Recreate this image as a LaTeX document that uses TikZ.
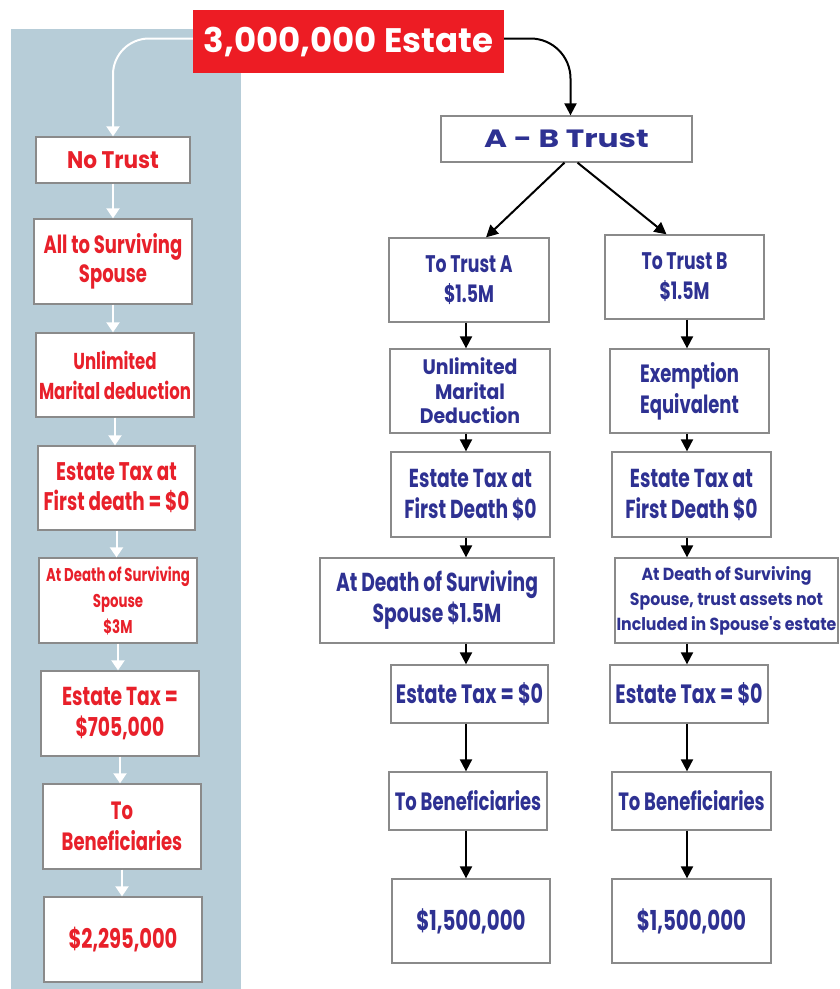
\documentclass[tikz,border=0pt]{standalone}
\usepackage{fontspec}
\setmainfont{Poppins}[FakeStretch=0.72]
\newfontfamily\fwide{Poppins}[FakeStretch=0.9]
\newfontfamily\ftitle{Poppins}[FakeStretch=1.0]
\newfontfamily\fab{Poppins}[FakeStretch=1.25]
\usetikzlibrary{arrows.meta}
\definecolor{panel}{HTML}{B7CDD8}
\definecolor{estred}{HTML}{ED1C24}
\definecolor{txtred}{HTML}{E8202A}
\definecolor{txtblue}{HTML}{2E3192}
\definecolor{boxgray}{HTML}{8A8A8A}
\begin{document}
\begin{tikzpicture}[x=1pt,y=-1pt,
  boxbase/.style={draw=boxgray, line width=1.3pt, fill=white, inner sep=0pt, align=center},
  lbox/.style={boxbase, text=txtred},
  rbox/.style={boxbase, text=txtblue},
  fm/.style n args={2}{font=\bfseries\fontsize{#1}{#2}\selectfont},
  fw/.style n args={2}{font=\fwide\bfseries\fontsize{#1}{#2}\selectfont},
  sz/.style n args={2}{minimum width=#1pt, minimum height=#2pt},
  wline/.style={draw=white, line width=2pt, -{Triangle[length=10pt,width=13pt]}, color=white},
  bline/.style={draw=black, line width=2pt, -{Triangle[length=12pt,width=12pt]}}
]
\useasboundingbox (0,0) rectangle (840,989);
\fill[panel] (11,29) rectangle (241,989);

% title
\node[fill=estred, text=white, inner sep=0pt, sz={311}{63}, font=\ftitle\bfseries\fontsize{34}{40}\selectfont] (title) at (348.5,41.5) {3,000,000 Estate};

% left column
\node[lbox, fw={24}{30}, sz={154}{46}] (notrust) at (113,160) {No Trust};
\node[lbox, fm={25}{29}, sz={158}{85}] (all) at (113,261.5) {All to Surviving\\Spouse};
\node[lbox, fm={23}{30}, sz={158}{84}] (unl) at (115,375) {Unlimited\\Marital deduction};
\node[lbox, fm={25.5}{30}, sz={157}{84}] (etx) at (116.5,488) {Estate Tax at\\First death = \$0};
\node[lbox, fm={18.5}{26}, sz={158}{85}] (atd) at (118,600.5) {At Death of Surviving\\Spouse\\\$3M};
\node[lbox, fm={26}{31}, sz={158}{85}] (tax) at (120,713.5) {Estate Tax =\\\$705,000};
\node[lbox, fm={25}{31}, sz={158}{85}] (ben) at (122,826.5) {To\\Beneficiaries};
\node[lbox, fm={27}{31}, sz={158}{85}] (fin) at (123,939.5) {\$2,295,000};

% A-B trust
\node[rbox, font=\fab\bfseries\fontsize{25}{30}\selectfont, sz={251}{46}] (ab) at (566.5,139) {A - B Trust};

% column A
\node[rbox, fm={24}{30}, sz={160}{84}] (trA) at (469,280) {To Trust A\\\$1.5M};
\node[rbox, fw={21}{24.5}, sz={160}{84}] (umA) at (470,391) {Unlimited\\Marital\\Deduction};
\node[rbox, fm={26}{31}, sz={159}{85}] (etA) at (470.5,494.5) {Estate Tax at\\First Death \$0};
\node[rbox, fm={26}{31}, sz={234}{85}] (adA) at (437,600.5) {At Death of Surviving\\Spouse \$1.5M};
\node[rbox, fm={26.5}{31}, sz={157}{58}] (tzA) at (469.5,694) {Estate Tax = \$0};
\node[rbox, fm={25}{31}, sz={158}{58}] (bnA) at (468,801) {To Beneficiaries};
\node[rbox, fm={27.5}{31}, sz={158}{84}] (fnA) at (471,921) {\$1,500,000};

% column B
\node[rbox, fm={24}{30}, sz={159}{84}] (trB) at (684.5,277) {To Trust B\\\$1.5M};
\node[rbox, fm={25}{31}, sz={159}{84}] (eeB) at (689.5,391) {Exemption\\Equivalent};
\node[rbox, fm={26}{31}, sz={159}{85}] (etB) at (691.5,494.5) {Estate Tax at\\First Death \$0};
\node[rbox, fw={17.5}{25}, sz={223}{85}] (adB) at (726.5,600.5) {At Death of Surviving\\Spouse, trust assets not\\Included in Spouse's estate};
\node[rbox, fm={26.5}{31}, sz={158}{58}] (tzB) at (689,694) {Estate Tax = \$0};
\node[rbox, fm={25}{31}, sz={159}{58}] (bnB) at (691.5,801) {To Beneficiaries};
\node[rbox, fm={27.5}{31}, sz={159}{84}] (fnB) at (691.5,921) {\$1,500,000};

\coordinate (colA) at (466,0);
\coordinate (colB) at (687,0);

% curved connectors from title
\draw[wline, rounded corners=36pt] ([yshift=3pt]title.west) -| (notrust.north);
\draw[bline, rounded corners=40pt] ([yshift=3pt]title.east) -| ([xshift=4pt]ab.north);

% left white arrows
\foreach \a/\b in {notrust/all, all/unl, unl/etx, etx/atd, atd/tax, tax/ben, ben/fin}
  \draw[wline] (\a.south) -- (\a.south |- \b.north);

% diagonals
\draw[bline] ([xshift=-2pt]ab.south) -- ([xshift=17pt]trA.north);
\draw[bline] ([xshift=11pt]ab.south) -- ([xshift=-18pt]trB.north);

% column arrows
\foreach \a/\b in {trA/umA, umA/etA, etA/adA, adA/tzA, tzA/bnA, bnA/fnA}
  \draw[bline] (\a.south -| colA) -- (\b.north -| colA);
\foreach \a/\b in {trB/eeB, eeB/etB, etB/adB, adB/tzB, tzB/bnB, bnB/fnB}
  \draw[bline] (\a.south -| colB) -- (\b.north -| colB);
\end{tikzpicture}
\end{document}
